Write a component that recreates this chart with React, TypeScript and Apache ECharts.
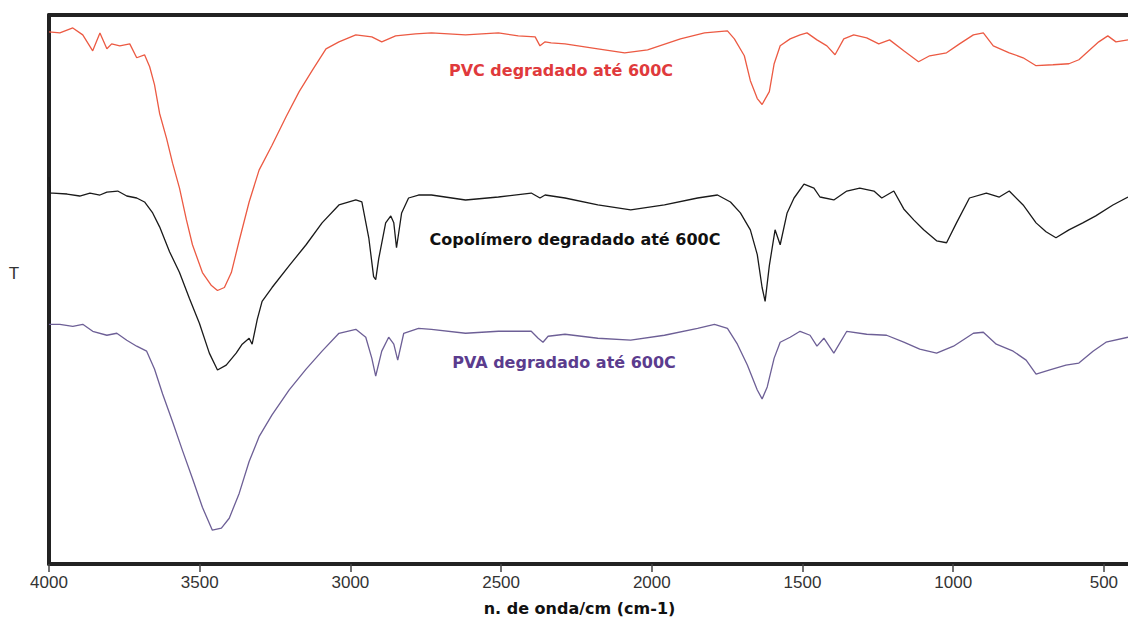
import React, { useEffect, useRef } from "react";
import * as echarts from "echarts";

// wavenumber (cm-1), transmittance (arbitrary units)
const pvcData: [number, number][] = [
  [4000, 539], [3964, 538], [3921, 543], [3888, 536], [3855, 520], [3831, 538], [3808, 522],
  [3792, 527], [3765, 525], [3732, 527], [3709, 513], [3683, 516], [3666, 504], [3650, 486],
  [3633, 457], [3610, 432], [3590, 407], [3567, 382], [3544, 350], [3524, 325], [3491, 297],
  [3461, 284], [3441, 279], [3418, 282], [3395, 297], [3369, 329], [3336, 368], [3303, 400],
  [3260, 425], [3213, 454], [3170, 479], [3127, 500], [3081, 522], [3038, 529], [2982, 536],
  [2929, 534], [2896, 529], [2850, 535], [2784, 537], [2731, 538], [2618, 536], [2509, 538],
  [2443, 535], [2387, 534], [2371, 525], [2354, 529], [2334, 528], [2288, 527], [2179, 522],
  [2090, 518], [2014, 521], [1905, 532], [1825, 538], [1749, 540], [1726, 532], [1693, 515],
  [1673, 490], [1650, 472], [1634, 466], [1610, 479], [1594, 507], [1574, 525], [1541, 532],
  [1508, 536], [1485, 538], [1452, 531], [1419, 525], [1392, 516], [1363, 532], [1330, 536],
  [1287, 533], [1247, 527], [1211, 531], [1164, 520], [1115, 509], [1078, 515], [1022, 518],
  [979, 527], [933, 536], [900, 538], [867, 525], [814, 518], [768, 513], [725, 505],
  [669, 506], [616, 507], [583, 511], [550, 520], [517, 529], [487, 535], [460, 529], [420, 531],
];

const copolymerData: [number, number][] = [
  [4000, 393], [3995, 377], [3987, 377], [3940, 376], [3898, 374], [3864, 377], [3831, 375],
  [3808, 378], [3772, 379], [3742, 374], [3709, 372], [3683, 368], [3656, 357], [3633, 343],
  [3600, 318], [3567, 297], [3534, 271], [3501, 246], [3468, 216], [3441, 199], [3412, 204],
  [3379, 216], [3359, 225], [3336, 231], [3326, 225], [3309, 250], [3293, 268], [3260, 282],
  [3203, 304], [3147, 325], [3094, 347], [3038, 365], [2982, 370], [2962, 368], [2939, 332],
  [2923, 293], [2916, 290], [2906, 311], [2883, 347], [2866, 354], [2856, 347], [2847, 322],
  [2830, 357], [2807, 372], [2774, 375], [2731, 375], [2618, 370], [2509, 373], [2400, 377],
  [2371, 372], [2354, 375], [2288, 372], [2179, 365], [2070, 360], [1958, 365], [1848, 372],
  [1782, 375], [1739, 368], [1706, 357], [1673, 340], [1650, 315], [1634, 282], [1624, 268],
  [1610, 304], [1591, 340], [1574, 325], [1551, 357], [1528, 372], [1495, 386], [1462, 382],
  [1442, 373], [1396, 370], [1353, 379], [1310, 382], [1263, 379], [1237, 372], [1197, 379],
  [1164, 361], [1131, 350], [1098, 340], [1055, 329], [1022, 327], [989, 347], [946, 372],
  [890, 377], [847, 373], [814, 379], [768, 365], [725, 347], [692, 338], [659, 332],
  [616, 340], [570, 347], [527, 354], [470, 365], [420, 373],
];

const pvaData: [number, number][] = [
  [4000, 245], [3964, 245], [3921, 243], [3888, 245], [3855, 238], [3808, 234], [3775, 236],
  [3742, 229], [3709, 223], [3676, 218], [3650, 200], [3623, 175], [3590, 147], [3557, 118],
  [3524, 90], [3491, 61], [3458, 38], [3428, 40], [3402, 50], [3369, 75], [3336, 107],
  [3303, 132], [3260, 154], [3203, 179], [3147, 200], [3094, 218], [3038, 236], [2982, 240],
  [2949, 232], [2929, 211], [2916, 193], [2896, 218], [2873, 232], [2856, 225], [2843, 209],
  [2823, 236], [2774, 241], [2731, 240], [2618, 236], [2509, 238], [2400, 238], [2377, 231],
  [2361, 227], [2344, 233], [2288, 235], [2179, 231], [2070, 229], [1958, 234], [1848, 241],
  [1792, 245], [1749, 241], [1716, 225], [1683, 204], [1650, 179], [1634, 170], [1617, 182],
  [1594, 211], [1574, 227], [1541, 232], [1508, 238], [1475, 234], [1452, 223], [1429, 231],
  [1396, 216], [1353, 238], [1287, 235], [1221, 234], [1164, 227], [1111, 220], [1055, 216],
  [999, 223], [933, 236], [900, 237], [857, 225], [801, 218], [758, 209], [725, 195],
  [682, 199], [626, 204], [583, 206], [536, 218], [493, 227], [420, 232],
];

const tickValues: number[] = [4000, 3500, 3000, 2500, 2000, 1500, 1000, 500];

const seriesNames = ["PVC degradado até 600C", "Copolímero degradado até 600C", "PVA degradado até 600C"];
const xAxisName = "n. de onda/cm (cm-1)";
const yAxisName = "T";

export default function App() {
  const ref = useRef<HTMLDivElement>(null);

  useEffect(() => {
    document.body.style.margin = "0";
    if (!ref.current) return;
    const chart = echarts.init(ref.current, null, { renderer: "svg" });
    const frame = "#222";
    const labelFont = "'DejaVu Sans', sans-serif";
    chart.setOption({
      animation: false,
      backgroundColor: "#ffffff",
      grid: { left: 49, right: 0, top: 15, bottom: 54 },
      xAxis: [
        {
          type: "value",
          inverse: true,
          min: 420,
          max: 4000,
          position: "bottom",
          splitLine: { show: false },
          axisLine: { show: true, onZero: false, lineStyle: { color: frame, width: 4 } },
          axisTick: {
            show: true,
            customValues: tickValues,
            length: 8,
            lineStyle: { color: "#444", width: 1.5 },
          },
          axisLabel: {
            customValues: tickValues,
            formatter: (v: number) => String(v),
            color: "#333",
            fontFamily: "'Liberation Sans', Arial, sans-serif",
            fontSize: 17,
            margin: 10,
          },
          name: xAxisName,
          nameLocation: "middle",
          nameGap: 36,
          nameTextStyle: {
            color: "#111",
            fontFamily: labelFont,
            fontWeight: "bold",
            fontSize: 16,
            padding: [0, 18, 0, 0],
          },
        },
        {
          type: "value",
          inverse: true,
          min: 420,
          max: 4000,
          position: "top",
          splitLine: { show: false },
          axisLine: { show: true, onZero: false, lineStyle: { color: frame, width: 4 } },
          axisTick: { show: false },
          axisLabel: { show: false },
        },
      ],
      yAxis: {
        type: "value",
        min: 4,
        max: 556,
        splitLine: { show: false },
        axisLine: { show: true, onZero: false, lineStyle: { color: frame, width: 4 } },
        axisTick: { show: false },
        axisLabel: { show: false },
      },
      series: [
        {
          name: seriesNames[0],
          type: "line",
          data: pvcData,
          showSymbol: false,
          lineStyle: { color: "#ec5a43", width: 1.3 },
        },
        {
          name: seriesNames[1],
          type: "line",
          data: copolymerData,
          showSymbol: false,
          lineStyle: { color: "#1a1a1a", width: 1.3 },
        },
        {
          name: seriesNames[2],
          type: "line",
          data: pvaData,
          showSymbol: false,
          lineStyle: { color: "#6d5f96", width: 1.3 },
        },
      ],
      graphic: [
        {
          type: "text",
          x: 14,
          y: 273,
          style: {
            text: yAxisName,
            fill: "#333",
            font: "17px 'Liberation Sans', Arial, sans-serif",
            textAlign: "center",
            textVerticalAlign: "middle",
          },
        },
        {
          type: "text",
          x: 561,
          y: 70,
          style: {
            text: seriesNames[0],
            fill: "#e03a3c",
            font: `bold 16px ${labelFont}`,
            textAlign: "center",
            textVerticalAlign: "middle",
          },
        },
        {
          type: "text",
          x: 575,
          y: 239,
          style: {
            text: seriesNames[1],
            fill: "#111",
            font: `bold 16px ${labelFont}`,
            textAlign: "center",
            textVerticalAlign: "middle",
          },
        },
        {
          type: "text",
          x: 564,
          y: 362,
          style: {
            text: seriesNames[2],
            fill: "#5b3c8e",
            font: `bold 16px ${labelFont}`,
            textAlign: "center",
            textVerticalAlign: "middle",
          },
        },
      ],
    });
    return () => chart.dispose();
  }, []);

  return <div ref={ref} style={{ width: 1128, height: 621 }} />;
}
